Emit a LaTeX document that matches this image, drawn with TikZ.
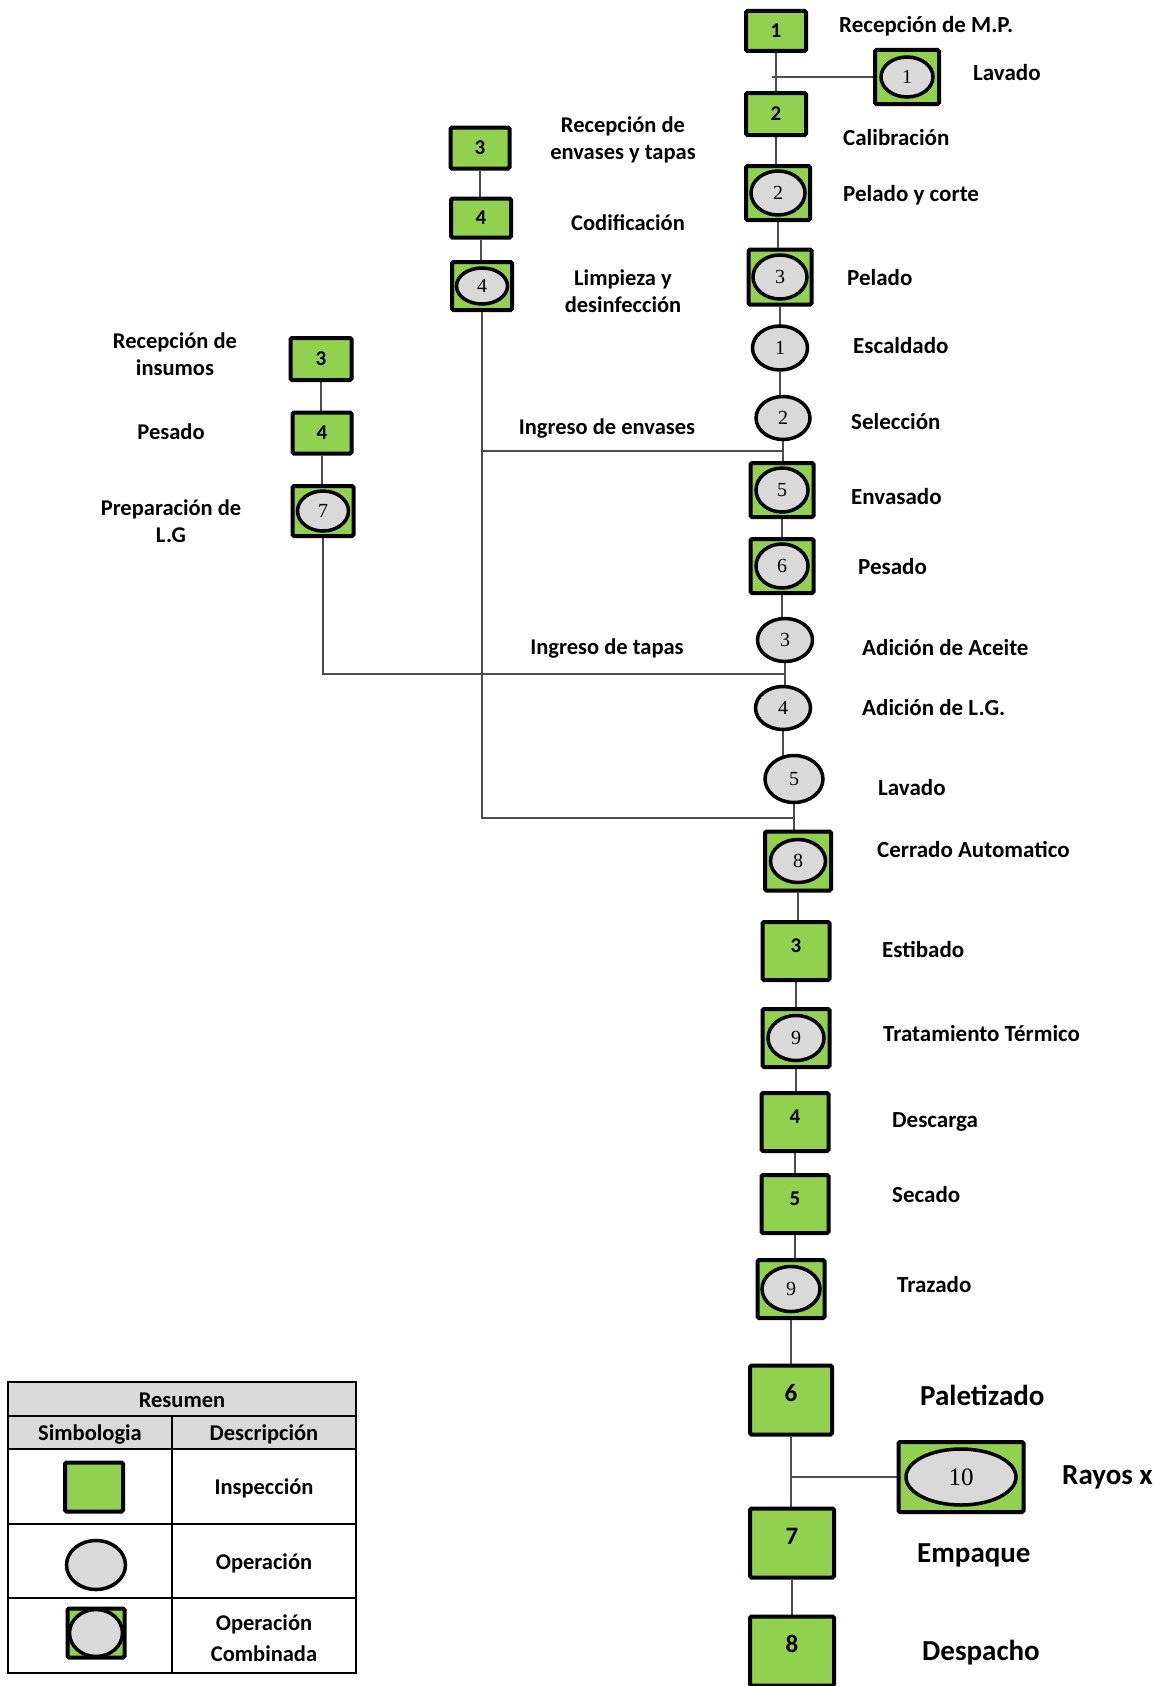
\documentclass[tikz,border=0pt]{standalone}
\usepackage{fontspec}
\setmainfont{Carlito}
\newfontfamily\numfont{Liberation Serif}
\usetikzlibrary{shapes.geometric,backgrounds}
\definecolor{gr}{HTML}{92D050}
\definecolor{lg}{HTML}{D9D9D9}
\begin{document}
\begin{tikzpicture}[x=1pt,y=-1pt,
 insp/.style={rectangle, draw=black, line width=4pt, fill=gr, rounded corners=1.5pt, inner sep=0pt, font=\fontsize{21}{23}\selectfont\bfseries},
 oper/.style={ellipse, draw=black, line width=3.5pt, fill=lg, inner sep=0pt, font=\numfont\fontsize{20}{22}\selectfont},
 bignum/.style={font=\fontsize{25}{28}\selectfont\bfseries, text depth=14pt},
 conn/.style={draw=black!70, line width=1.7pt},
 lbl/.style={inner sep=0pt, anchor=west, yshift=-5pt, text height=0.68em, text depth=0.18em, font=\fontsize{23}{28}\selectfont\bfseries},
 clbl/.style={inner sep=0pt, align=center, font=\fontsize{22.5}{27.5}\selectfont\bfseries},
 big/.style={inner sep=0pt, anchor=west, yshift=-7pt, text height=0.68em, text depth=0.18em, font=\fontsize{29}{33}\selectfont\bfseries},
]
\useasboundingbox (0,0) rectangle (1160,1686);

% ---------- main column ----------
\node[insp, minimum width=60pt, minimum height=40pt] (sq1) at (776,31) {1};
\node[insp, minimum width=64pt, minimum height=54pt] (l1) at (907,77) {};
\node[oper, minimum width=52pt, minimum height=40pt] (l1e) at (l1) {1};
\node[insp, minimum width=60pt, minimum height=42pt] (sq2) at (776,114) {2};
\node[insp, minimum width=64pt, minimum height=54pt] (p2) at (778,193) {};
\node[oper, minimum width=54pt, minimum height=44pt] (p2e) at (p2) {2};
\node[insp, minimum width=63pt, minimum height=55pt] (p3) at (780,277) {};
\node[oper, minimum width=54pt, minimum height=44pt] (p3e) at (p3) {3};
\node[oper, minimum width=55pt, minimum height=44pt] (o1) at (780,348) {1};
\node[oper, minimum width=54pt, minimum height=43pt] (o2) at (783,418) {2};
\node[insp, minimum width=63pt, minimum height=54pt] (e5) at (782,490) {};
\node[oper, minimum width=52pt, minimum height=44pt] (e5e) at (e5) {5};
\node[insp, minimum width=63pt, minimum height=54pt] (e6) at (782,566) {};
\node[oper, minimum width=52pt, minimum height=44pt] (e6e) at (e6) {6};
\node[oper, minimum width=55pt, minimum height=43pt] (o3) at (785,640) {3};
\node[oper, minimum width=55pt, minimum height=43pt] (o4) at (783,708) {4};
\node[oper, minimum width=58pt, minimum height=47pt] (o5) at (794,779) {5};
\node[insp, minimum width=66pt, minimum height=59pt] (c8) at (798,861) {};
\node[oper, minimum width=55pt, minimum height=43pt] (c8e) at (c8) {8};
\node[insp, minimum width=67pt, minimum height=58pt, text depth=10pt] (s3) at (796,951) {3};
\node[insp, minimum width=67pt, minimum height=58pt] (t9) at (796,1038) {};
\node[oper, minimum width=56pt, minimum height=45pt] (t9e) at (t9) {9};
\node[insp, minimum width=67pt, minimum height=58pt, text depth=10pt] (s4) at (795,1122) {4};
\node[insp, minimum width=67pt, minimum height=58pt, text depth=10pt] (s5) at (795,1204) {5};
\node[insp, minimum width=67pt, minimum height=58pt] (z9) at (791,1289) {};
\node[oper, minimum width=58pt, minimum height=45pt] (z9e) at (z9) {9};
\node[insp, minimum width=82pt, minimum height=69pt, bignum] (s6) at (791,1400) {6};
\node[insp, minimum width=125pt, minimum height=70pt] (rx) at (961,1477) {};
\node[oper, minimum width=110pt, minimum height=56pt, font=\numfont\fontsize{25}{28}\selectfont] (rxe) at (rx) {10};
\node[insp, minimum width=84pt, minimum height=69pt, bignum] (s7) at (792,1543) {7};
\node[insp, minimum width=84pt, minimum height=69pt, bignum] (s8) at (792,1651) {8};

% ---------- envases column ----------
\node[insp, minimum width=59pt, minimum height=41pt] (a3) at (480,148) {3};
\node[insp, minimum width=60pt, minimum height=39pt] (a4) at (481,218) {4};
\node[insp, minimum width=60pt, minimum height=48pt] (a4c) at (482,286) {};
\node[oper, minimum width=51pt, minimum height=36pt] (a4e) at (a4c) {4};

% ---------- insumos column ----------
\node[insp, minimum width=61pt, minimum height=42pt] (b3) at (321,359) {3};
\node[insp, minimum width=59pt, minimum height=41pt] (b4) at (322,433) {4};
\node[insp, minimum width=61pt, minimum height=50pt] (b7c) at (323,511) {};
\node[oper, minimum width=51pt, minimum height=40pt] (b7e) at (b7c) {7};

% ---------- junctions ----------
\coordinate (jL) at (772,77);
\coordinate (jEnv) at (783,451);
\coordinate (jTap) at (785,674);
\coordinate (jCer) at (794,818);

% ---------- connectors ----------
\begin{scope}[on background layer]
\draw[conn] (sq1) -- (sq1 |- sq2);
\draw[conn] (jL) -- (l1);
\draw[conn] (sq2) -- (sq2 |- p2);
\draw[conn] (p2) -- (p2 |- p3);
\draw[conn] (p3) -- (p3 |- o1);
\draw[conn] (o1) -- (o1 |- o2);
\draw[conn] (o2) -- (o2 |- e5);
\draw[conn] (e5) -- (e5 |- e6);
\draw[conn] (e6) -- (e6 |- o3);
\draw[conn] (o3) -- (o3 |- o4);
\draw[conn] (o4) -- (o4 |- o5);
\draw[conn] (o5) -- (o5 |- c8);
\draw[conn] (c8) -- (c8 |- s3);
\draw[conn] (s3) -- (s3 |- t9);
\draw[conn] (t9) -- (t9 |- s4);
\draw[conn] (s4) -- (s4 |- s5);
\draw[conn] (s5) -- (s5 |- z9);
\draw[conn] (z9) -- (z9 |- s6);
\draw[conn] (s6) -- (s6 |- s7);
\draw[conn] (s7) -- (s7 |- s8);
\draw[conn] (s6 |- rx) -- (rx);
\draw[conn] (a3) -- (a3 |- a4);
\draw[conn] (a4) -- (a4 |- a4c);
\draw[conn] (a4c) -- (a4c |- jCer) -- (jCer);
\draw[conn] (a4c |- jEnv) -- (jEnv);
\draw[conn] (b3) -- (b3 |- b4);
\draw[conn] (b4) -- (b4 |- b7c);
\draw[conn] (b7c) |- (jTap);
\end{scope}

% ---------- labels ----------
\node[lbl] (t1) at (839,25) {Recepción de M.P.};
\node[lbl] (t2) at (973,73) {Lavado};
\node[lbl] (t3) at (843,138) {Calibración};
\node[lbl] (t4) at (843,194) {Pelado y corte};
\node[lbl] (t5) at (847,278) {Pelado};
\node[lbl] (t6) at (853,346) {Escaldado};
\node[lbl] (t7) at (851,422) {Selección};
\node[lbl] (t8) at (851,497) {Envasado};
\node[lbl] (t9l) at (858,567) {Pesado};
\node[lbl] (t10) at (862,648) {Adición de Aceite};
\node[lbl] (t11) at (862,708) {Adición de L.G.};
\node[lbl] (t12) at (878,788) {Lavado};
\node[lbl] (t13) at (877,850) {Cerrado Automatico};
\node[lbl] (t14) at (882,950) {Estibado};
\node[lbl] (t15) at (883,1034) {Tratamiento Térmico};
\node[lbl] (t16) at (892,1120) {Descarga};
\node[lbl] (t17) at (892,1195) {Secado};
\node[lbl] (t18) at (897,1285) {Trazado};
\node[big] (t19) at (920,1396) {Paletizado};
\node[big] (t20) at (1062,1475) {Rayos x};
\node[big] (t21) at (917,1553) {Empaque};
\node[big] (t22) at (922,1651) {Despacho};

\node[clbl] (u1) at (623,140) {Recepción de\\envases y tapas};
\node[clbl] (u2) at (628,223) {Codificación};
\node[clbl] (u3) at (623,291) {Limpieza y\\desinfección};
\node[clbl] (u4) at (607,429) {Ingreso de envases};
\node[clbl] (u5) at (607,649) {Ingreso de tapas};
\node[clbl] (v1) at (175,354) {Recepción de\\insumos};
\node[clbl] (v2) at (171,432) {Pesado};
\node[clbl] (v3) at (171,521) {Preparación de\\L.G};

% ---------- legend ----------
\fill[lg] (8,1382) rectangle (356,1449);
\draw[line width=1.5pt] (8,1382) rectangle (356,1673);
\draw[line width=1.5pt] (8,1416) -- (356,1416);
\draw[line width=1.5pt] (8,1449) -- (356,1449);
\draw[line width=1.5pt] (8,1524) -- (356,1524);
\draw[line width=1.5pt] (8,1598) -- (356,1598);
\draw[line width=1.5pt] (172,1416) -- (172,1673);
\node[clbl] (lgRes) at (182,1400) {Resumen};
\node[clbl] (lgSim) at (90,1434) {Simbologia};
\node[clbl] (lgDes) at (264,1434) {Descripción};
\node[insp, minimum width=58pt, minimum height=49pt] (lgSq) at (94,1487) {};
\node[oper, minimum width=59pt, minimum height=49pt] (lgEl) at (96,1565) {};
\node[insp, minimum width=57pt, minimum height=49pt] (lgCb) at (96,1633) {};
\node[oper, minimum width=53pt, minimum height=47pt] (lgCbE) at (lgCb) {};
\node[clbl] (lgIns) at (264,1488) {Inspección};
\node[clbl] (lgOp) at (264,1563) {Operación};
\node[clbl] (lgOc) at (264,1638) {Operación\\[4pt]Combinada};
\end{tikzpicture}
\end{document}
